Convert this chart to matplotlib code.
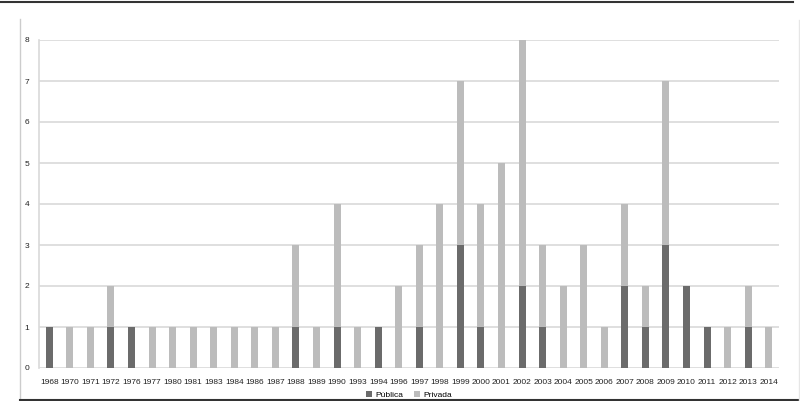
import matplotlib
matplotlib.use("Agg")
import matplotlib.pyplot as plt
from matplotlib.lines import Line2D
import numpy as np

years = ["1968","1970","1971","1972","1976","1977","1980","1981","1983","1984","1986","1987",
         "1988","1989","1990","1993","1994","1996","1997","1998","1999","2000","2001","2002",
         "2003","2004","2005","2006","2007","2008","2009","2010","2011","2012","2013","2014"]
publica = [1,0,0,1,1,0,0,0,0,0,0,0,1,0,1,0,1,0,1,0,3,1,0,2,1,0,0,0,2,1,3,2,1,0,1,0]
privada = [0,1,1,1,0,1,1,1,1,1,1,1,2,1,3,1,0,2,2,4,4,3,5,6,2,2,3,1,2,1,4,0,0,1,1,1]

plt.rcParams['font.family'] = ['Liberation Sans', 'DejaVu Sans']

W, H = 800, 401
fig = plt.figure(figsize=(W/100, H/100), dpi=100)
ax = fig.add_axes([39/W, 1-368/H, 740/W, (368-40)/H])

x = np.arange(len(years))
c_pub = "#6b6b6b"
c_priv = "#bcbcbc"
ax.bar(x, publica, width=0.34, color=c_pub, label="Pública", zorder=3)
ax.bar(x, privada, width=0.34, bottom=publica, color=c_priv, label="Privada", zorder=3)

ax.set_xlim(-0.5, len(years)-0.5)
ax.set_ylim(0, 8)
ax.set_yticks(range(0, 9))
ax.set_xticks(x)
ax.set_xticklabels(years)
ax.tick_params(axis='both', length=0, labelsize=6.0, colors="#222222")
ax.tick_params(axis='x', pad=8)
ax.tick_params(axis='y', pad=7)
ax.grid(axis='y', color="#d9d9d9", linewidth=1.2, zorder=0)
for s in ["top", "right", "bottom"]:
    ax.spines[s].set_visible(False)
ax.spines["left"].set_color("#d9d9d9")
ax.spines["left"].set_linewidth(1.2)

leg = ax.legend(loc="upper center", bbox_to_anchor=(0.5, -0.06), ncol=2, frameon=False,
                fontsize=6.0, handlelength=0.7, handleheight=0.7, handletextpad=0.4,
                columnspacing=1.4, borderaxespad=0)

# outer frame lines
fig.add_artist(Line2D([0, 793/W], [1-1.5/H, 1-1.5/H], color="#333333", linewidth=1.5, transform=fig.transFigure))
fig.add_artist(Line2D([20/W, 20/W], [1-19/H, 0], color="#cccccc", linewidth=1.0, transform=fig.transFigure))
fig.add_artist(Line2D([20/W, 1], [1-399.5/H, 1-399.5/H], color="#333333", linewidth=1.5, transform=fig.transFigure))
fig.add_artist(Line2D([799/W, 799/W], [1-20/H, 0], color="#e6e6e6", linewidth=1.0, transform=fig.transFigure))

fig.savefig("out.png", dpi=100)
